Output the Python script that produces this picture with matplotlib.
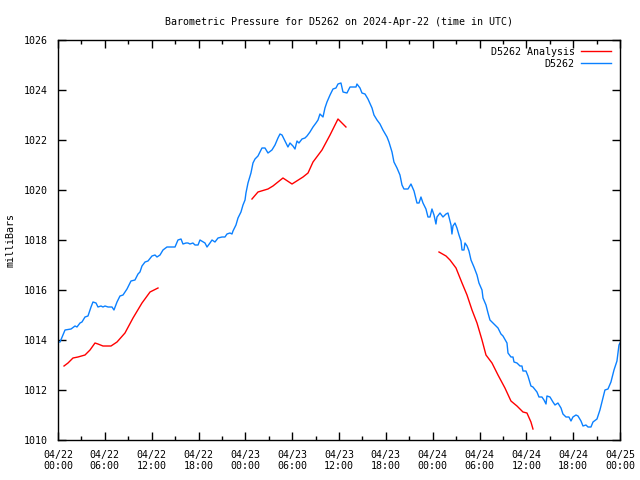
import matplotlib
matplotlib.use('Agg')
import matplotlib.pyplot as plt

# hours since 2024-04-22 00:00 UTC, pressure in millibars
blue_hours = [0, 0.26, 0.9, 1.67, 2.18, 2.43, 2.82, 3.07, 3.46, 3.84, 4.23, 4.48, 4.87, 5.12,
              5.51, 5.76, 6.02, 6.41, 6.92, 7.17, 7.56, 7.94, 8.33, 8.84, 9.1, 9.35, 9.86,
              10.25, 10.5, 10.76, 11.15, 11.53, 12.04, 12.43, 12.68, 13.07, 13.45, 13.96,
              14.99, 15.37, 15.76, 16.01, 16.4, 16.65, 16.91, 17.29, 17.55, 17.94, 18.19,
              18.83, 19.09, 19.47, 19.73, 20.11, 20.5, 21.01, 21.39, 21.65, 22.03, 22.29,
              22.42, 22.8, 23.06, 23.44, 23.7, 23.96, 24.08, 24.34, 24.72, 24.98, 25.24,
              25.62, 26.13, 26.52, 26.9, 27.41, 27.8, 28.18, 28.44, 28.7, 29.08, 29.46,
              29.72, 30.1, 30.36, 30.62, 30.87, 31.26, 31.64, 31.9, 32.28, 32.67, 33.05,
              33.31, 33.56, 33.95, 34.2, 34.46, 34.85, 35.23, 35.61, 35.87, 36.25, 36.51,
              37.02, 37.41, 38.18, 38.3, 38.69, 38.94, 39.33, 39.71, 40.23, 40.48, 40.87,
              41.25, 41.63, 42.15, 42.4, 42.79, 43.04, 43.43, 43.81, 44.07, 44.32, 44.84,
              45.22, 45.61, 45.99, 46.25, 46.5, 46.76, 47.14, 47.4, 47.66, 47.91, 48.17,
              48.42, 48.55, 48.94, 49.32, 49.71, 49.96, 50.09, 50.35, 50.47, 50.6, 50.86,
              51.11, 51.37, 51.63, 51.76, 52.01, 52.14, 52.4, 52.65, 52.91, 53.29, 53.68,
              53.93, 54.32, 54.45, 54.83, 55.09, 55.34, 55.73, 56.24, 56.37, 56.75, 57.01,
              57.52, 57.65, 58.03, 58.29, 58.42, 58.8, 59.19, 59.44, 59.57, 59.95, 60.21,
              60.59, 60.85, 61.36, 61.62, 62.0, 62.26, 62.52, 62.64, 63.03, 63.41, 63.67,
              64.05, 64.44, 64.69, 65.08, 65.46, 65.72, 65.97, 66.36, 66.62, 67.0, 67.26,
              67.64, 67.9, 68.28, 68.54, 69.05, 69.43, 69.82, 70.07, 70.46, 70.84, 71.23,
              71.61, 71.87, 72.0]
blue_mb = [1013.92, 1013.92, 1014.4, 1014.44, 1014.56, 1014.52, 1014.68, 1014.72, 1014.92,
           1014.96, 1015.32, 1015.52, 1015.48, 1015.32, 1015.36, 1015.32, 1015.36, 1015.32,
           1015.32, 1015.2, 1015.52, 1015.76, 1015.8, 1016.04, 1016.2, 1016.36, 1016.4,
           1016.64, 1016.72, 1016.96, 1017.12, 1017.16, 1017.36, 1017.4, 1017.32, 1017.4,
           1017.6, 1017.72, 1017.72, 1018.0, 1018.04, 1017.84, 1017.88, 1017.88, 1017.84,
           1017.88, 1017.8, 1017.8, 1018.0, 1017.88, 1017.72, 1017.88, 1018.0, 1017.92,
           1018.08, 1018.12, 1018.12, 1018.24, 1018.28, 1018.24, 1018.36, 1018.6, 1018.88,
           1019.12, 1019.4, 1019.6, 1019.88, 1020.28, 1020.68, 1021.08, 1021.24, 1021.36,
           1021.68, 1021.68, 1021.48, 1021.6, 1021.8, 1022.08, 1022.24, 1022.2, 1021.96,
           1021.72, 1021.88, 1021.76, 1021.64, 1021.96, 1021.88, 1022.04, 1022.08, 1022.16,
           1022.32, 1022.52, 1022.68, 1022.8, 1023.04, 1022.92, 1023.28, 1023.52, 1023.8,
           1024.04, 1024.08, 1024.24, 1024.28, 1023.92, 1023.88, 1024.12, 1024.12, 1024.24,
           1024.08, 1023.88, 1023.84, 1023.64, 1023.28, 1023.0, 1022.8, 1022.64, 1022.4,
           1022.12, 1021.92, 1021.52, 1021.12, 1020.88, 1020.6, 1020.2, 1020.04, 1020.04,
           1020.24, 1019.96, 1019.48, 1019.48, 1019.72, 1019.48, 1019.24, 1018.92, 1018.92,
           1019.24, 1019.0, 1018.64, 1018.92, 1019.08, 1018.92, 1019.04, 1019.08, 1018.92,
           1018.6, 1018.24, 1018.56, 1018.68, 1018.48, 1018.2, 1017.96, 1017.6, 1017.6,
           1017.88, 1017.76, 1017.56, 1017.2, 1016.92, 1016.6, 1016.28, 1016.0, 1015.68,
           1015.4, 1015.08, 1014.8, 1014.68, 1014.52, 1014.48, 1014.24, 1014.16, 1013.88,
           1013.48, 1013.32, 1013.32, 1013.12, 1013.08, 1012.96, 1012.96, 1012.76, 1012.76,
           1012.56, 1012.16, 1012.12, 1011.92, 1011.72, 1011.72, 1011.6, 1011.44, 1011.76,
           1011.72, 1011.52, 1011.4, 1011.48, 1011.28, 1011.04, 1010.92, 1010.92, 1010.76,
           1010.92, 1011.0, 1010.96, 1010.76, 1010.56, 1010.6, 1010.52, 1010.52, 1010.72,
           1010.84, 1011.2, 1011.68, 1012.0, 1012.04, 1012.32, 1012.8, 1013.16, 1013.8,
           1013.88]

# analysis comes in three separate pieces
red_hours_1 = [0.77, 1.28, 1.92, 2.56, 3.46, 4.1, 4.74, 5.12, 5.76, 6.79, 7.56, 8.58, 9.61,
               10.76, 11.79, 12.81]
red_mb_1 = [1012.96, 1013.08, 1013.28, 1013.32, 1013.4, 1013.6, 1013.88, 1013.84, 1013.76,
            1013.76, 1013.92, 1014.28, 1014.88, 1015.48, 1015.92, 1016.08]
red_hours_2 = [24.85, 25.62, 26.9, 27.54, 28.82, 29.98, 31.39, 32.03, 32.67, 33.82, 34.85,
               35.87, 36.89]
red_mb_2 = [1019.64, 1019.92, 1020.04, 1020.16, 1020.48, 1020.24, 1020.52, 1020.68, 1021.12,
            1021.6, 1022.2, 1022.84, 1022.52]
red_hours_3 = [48.81, 49.71, 50.22, 50.99, 51.76, 52.4, 53.04, 53.68, 54.32, 54.83, 55.6,
               56.37, 57.26, 58.03, 58.8, 59.57, 60.08, 60.59, 60.85]
red_mb_3 = [1017.52, 1017.36, 1017.2, 1016.88, 1016.28, 1015.8, 1015.2, 1014.68, 1014.0,
            1013.4, 1013.08, 1012.6, 1012.08, 1011.56, 1011.36, 1011.12, 1011.08, 1010.72,
            1010.44]

tick_hours = list(range(0, 73, 6))
tick_labels = ['04/22\n00:00', '04/22\n06:00', '04/22\n12:00', '04/22\n18:00',
               '04/23\n00:00', '04/23\n06:00', '04/23\n12:00', '04/23\n18:00',
               '04/24\n00:00', '04/24\n06:00', '04/24\n12:00', '04/24\n18:00',
               '04/25\n00:00']

plt.rcParams['font.family'] = 'DejaVu Sans Mono'
plt.rcParams['font.size'] = 7.2

fig = plt.figure(figsize=(6.4, 4.8), dpi=100)
ax = fig.add_axes([58/640, 40/480, 562/640, 400/480])

red = '#ff0000'
blue = '#0a80ff'
ax.plot(red_hours_1, red_mb_1, color=red, lw=1, label='D5262 Analysis')
ax.plot(red_hours_2, red_mb_2, color=red, lw=1)
ax.plot(red_hours_3, red_mb_3, color=red, lw=1)
ax.plot(blue_hours, blue_mb, color=blue, lw=1, label='D5262')

ax.set_xlim(0, 72)
ax.set_ylim(1010, 1026)
ax.set_xticks(tick_hours)
ax.set_xticklabels(tick_labels)
ax.set_xticks(range(3, 72, 6), minor=True)
ax.set_yticks(range(1010, 1027, 2))
ax.tick_params(direction='in', top=True, right=True, which='both', color='black')
ax.tick_params(which='major', length=6, width=1, pad=7)
ax.tick_params(which='minor', length=3, width=1)
for s in ax.spines.values():
    s.set_linewidth(1)

ax.set_ylabel('milliBars', labelpad=6)
ax.set_title('Barometric Pressure for D5262 on 2024-Apr-22 (time in UTC)',
             fontsize=7.2, pad=11)

leg = ax.legend(loc='upper right', bbox_to_anchor=(0.987, 0.988), frameon=False,
                markerfirst=False, handlelength=3, borderaxespad=0, borderpad=0.2,
                labelspacing=0.2, handletextpad=0.6)

fig.savefig('out.png', dpi=100)
